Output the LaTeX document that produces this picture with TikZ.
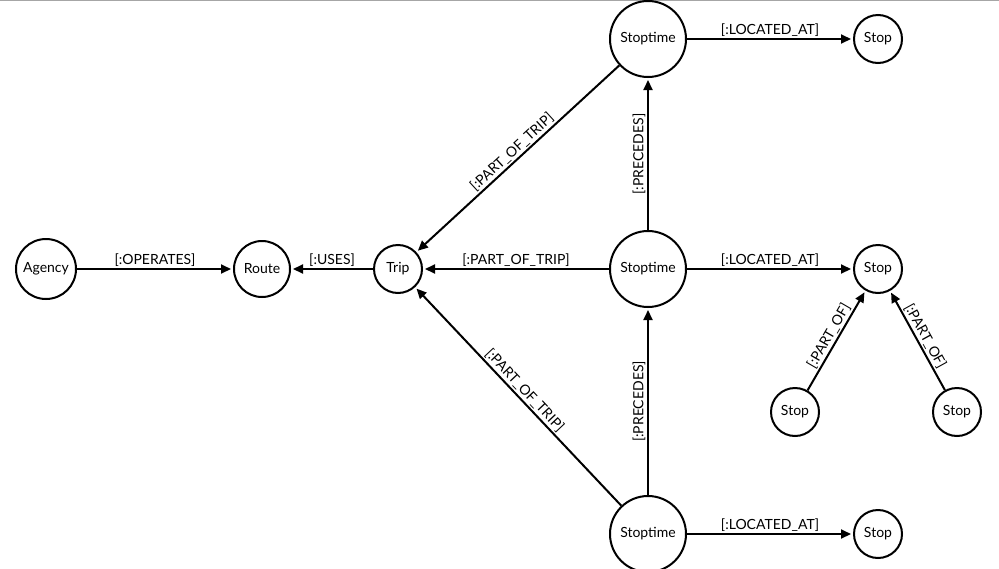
\documentclass[tikz,border=0pt]{standalone}
\usepackage{fontspec}
\setmainfont{Lato}
\usetikzlibrary{arrows.meta}
\tikzset{
  gnode/.style={circle, draw, line width=2pt, inner sep=0pt, font=\fontsize{14}{16}\selectfont},
  big/.style={gnode, minimum size=76pt},
  mid/.style={gnode, minimum size=60pt},
  small/.style={gnode, minimum size=48pt},
  rel/.style={line width=2pt, -{Triangle[length=10pt,width=9pt]}, shorten >=2pt},
  lab/.style={font=\fontsize{14}{16}\selectfont, inner sep=1.5pt},
}
\begin{document}
\begin{tikzpicture}[x=1pt,y=-1pt]
\useasboundingbox (0,0) rectangle (999,568);
\draw[gray!70, line width=1.2pt] (0,0.6) -- (999,0.6);
\node[mid] (agency) at (46,269) {Agency};
\node[small, minimum size=56pt] (route) at (262,269) {Route};
\node[small] (trip) at (398,269) {Trip};
\node[big] (st1) at (648,39) {Stoptime};
\node[big] (st2) at (648,269) {Stoptime};
\node[big] (st3) at (648,534) {Stoptime};
\node[small] (s1) at (878,39) {Stop};
\node[small] (s2) at (878,269) {Stop};
\node[small] (s3) at (878,534) {Stop};
\node[small] (sl) at (795,412) {Stop};
\node[small] (sr) at (957,412) {Stop};

\draw[rel] (agency) -- node[lab, above] {[:OPERATES]} (route);
\draw[rel] (trip) -- node[lab, above] {[:USES]} (route);
\draw[rel] (st2) -- node[lab, above] {[:PART\_OF\_TRIP]} (trip);
\draw[rel] (st1) -- node[lab, above, sloped] {[:PART\_OF\_TRIP]} (trip);
\draw[rel] (st3) -- node[lab, above, sloped] {[:PART\_OF\_TRIP]} (trip);
\draw[rel] (st2) -- node[lab, above, sloped] {[:PRECEDES]} (st1);
\draw[rel] (st3) -- node[lab, above, sloped] {[:PRECEDES]} (st2);
\draw[rel] (st1) -- node[lab, above] {[:LOCATED\_AT]} (s1);
\draw[rel] (st2) -- node[lab, above] {[:LOCATED\_AT]} (s2);
\draw[rel] (st3) -- node[lab, above] {[:LOCATED\_AT]} (s3);
\draw[rel] (sl) -- node[lab, above, sloped] {[:PART\_OF]} (s2);
\draw[rel] (sr) -- node[lab, above, sloped] {[:PART\_OF]} (s2);
\end{tikzpicture}
\end{document}
